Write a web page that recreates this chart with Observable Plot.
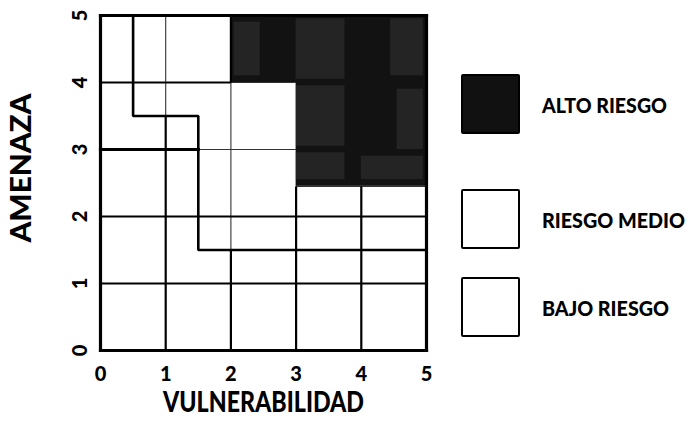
<!DOCTYPE html>
<html>
<head>
<meta charset="utf-8">
<script src="https://cdn.jsdelivr.net/npm/d3@7"></script>
<script src="https://cdn.jsdelivr.net/npm/@observablehq/plot@0.6"></script>
<style>
  html, body { margin: 0; padding: 0; background: #fff; }
  #wrap { position: relative; width: 688px; height: 432px; font-family: Lato, "Open Sans", sans-serif; }
  #legend { position: absolute; left: 461px; top: 0; }
  .item { position: absolute; left: 0; display: flex; align-items: center; white-space: nowrap; }
  .sw { width: 55px; height: 56px; border: 2px solid #000; border-radius: 2px; box-sizing: content-box; flex: none; }
  .lab { display: inline-block; margin-left: 22px; font-weight: 900; font-size: 21px; color: #000; transform-origin: 0 50%; }
</style>
</head>
<body>
<div id="wrap"></div>
<script>
// ---- data ----
const xTicks = [0, 1, 2, 3, 4, 5];
const yTicks = [0, 1, 2, 3, 4, 5];
const xLabel = "VULNERABILIDAD";
const yLabel = "AMENAZA";
const legendLabels = ["ALTO RIESGO", "RIESGO MEDIO", "BAJO RIESGO"];
const legendFills = ["#111", "#fff", "#fff"];

// high-risk zone (vulnerability x threat)
const altoRiesgo = [
  {x1: 2, x2: 5, y1: 4, y2: 5},
  {x1: 3, x2: 5, y1: 2.45, y2: 4}
];
// lighter speckled patches inside the high-risk zone
const manchas = [
  {x1: 2.05, x2: 2.45, y1: 4.1, y2: 4.9},
  {x1: 3.0, x2: 3.75, y1: 4.05, y2: 4.95},
  {x1: 4.45, x2: 4.95, y1: 4.1, y2: 4.95},
  {x1: 3.0, x2: 3.75, y1: 3.05, y2: 3.95},
  {x1: 4.55, x2: 4.95, y1: 3.0, y2: 3.9},
  {x1: 3.0, x2: 3.75, y1: 2.55, y2: 2.95},
  {x1: 4.0, x2: 4.95, y1: 2.55, y2: 2.9}
];
// boundary between low and medium risk (stepped line)
const limiteBajoMedio = [
  {x: 0.5, y: 5}, {x: 0.5, y: 3.5}, {x: 1.5, y: 3.5},
  {x: 1.5, y: 1.5}, {x: 5, y: 1.5}
];
// grid segments grouped by stroke weight
const marco = [
  {x1: 0, y1: 0, x2: 0, y2: 5}, {x1: 0, y1: 0, x2: 5, y2: 0},
  {x1: 5, y1: 0, x2: 5, y2: 5}, {x1: 0, y1: 5, x2: 5, y2: 5},
  {x1: 0, y1: 3, x2: 1.5, y2: 3}
];
const lineasMedias = [
  {x1: 0, y1: 4, x2: 2, y2: 4}, {x1: 0, y1: 2, x2: 5, y2: 2},
  {x1: 0, y1: 1, x2: 5, y2: 1},
  {x1: 1, y1: 0, x2: 1, y2: 3.5}, {x1: 2, y1: 0, x2: 2, y2: 1.5},
  {x1: 3, y1: 0, x2: 3, y2: 2.45}, {x1: 4, y1: 0, x2: 4, y2: 2.45},
  {x1: 2, y1: 4, x2: 2, y2: 5}
];
const lineasFinas = [
  {x1: 1, y1: 3.5, x2: 1, y2: 5}, {x1: 2, y1: 1.5, x2: 2, y2: 4},
  {x1: 1.5, y1: 3, x2: 3, y2: 3}, {x1: 2, y1: 4, x2: 3, y2: 4},
  {x1: 3, y1: 2.45, x2: 5, y2: 2.45}
];

// ---- chart ----
const font = "Lato, 'Open Sans', sans-serif";
const chart = Plot.plot({
  width: 688,
  height: 432,
  marginLeft: 100,
  marginRight: 262,
  marginTop: 15,
  marginBottom: 82,
  style: {fontFamily: font, background: "#fff", color: "#000"},
  x: {domain: [0, 5]},
  y: {domain: [0, 5]},
  marks: [
    Plot.rect(altoRiesgo, {x1: "x1", x2: "x2", y1: "y1", y2: "y2", fill: "#121212"}),
    Plot.rect(manchas, {x1: "x1", x2: "x2", y1: "y1", y2: "y2", fill: "#5a5a5a", fillOpacity: 0.25}),
    Plot.link(lineasFinas, {x1: "x1", y1: "y1", x2: "x2", y2: "y2", stroke: "#333", strokeWidth: 1.1}),
    Plot.link(lineasMedias, {x1: "x1", y1: "y1", x2: "x2", y2: "y2", stroke: "#000", strokeWidth: 2.2}),
    Plot.link(marco, {x1: "x1", y1: "y1", x2: "x2", y2: "y2", stroke: "#000", strokeWidth: 3.2, strokeLinecap: "square"}),
    Plot.line(limiteBajoMedio, {x: "x", y: "y", stroke: "#000", strokeWidth: 2.6, strokeLinejoin: "miter"}),
    Plot.axisX({ticks: xTicks, tickFormat: d3.format("d"), tickSize: 0, tickPadding: 16, label: null, fontSize: 20, fontWeight: 900}),
    Plot.axisY({ticks: yTicks, tickFormat: d3.format("d"), tickSize: 0, tickPadding: 14, label: null, fontSize: 20, fontWeight: 900, tickRotate: -90}),
    Plot.text([yLabel], {frameAnchor: "left", dx: -78, dy: -15, rotate: -90, textAnchor: "middle", lineAnchor: "middle", fontSize: 28, fontWeight: 900, text: d => d, className: "ttl-y"}),
    Plot.text([xLabel], {frameAnchor: "bottom", dy: 53, textAnchor: "middle", lineAnchor: "middle", fontSize: 28, fontWeight: 900, text: d => d, className: "ttl-x"})
  ]
});

const wrap = document.getElementById("wrap");
wrap.appendChild(chart);

// condensed look of the titles (match the reference widths)
const fit = (sel, len) => chart.querySelectorAll(sel + " text").forEach(t => {
  t.setAttribute("textLength", len);
  t.setAttribute("lengthAdjust", "spacingAndGlyphs");
});
fit(".ttl-y", 149);
fit(".ttl-x", 201);

// ---- legend ----
const legend = document.createElement("div");
legend.id = "legend";
const tops = [74, 189, 277];
const widths = [125, 143, 127];
wrap.appendChild(legend);
legendLabels.forEach((lab, i) => {
  const item = document.createElement("div");
  item.className = "item";
  item.style.top = tops[i] + "px";
  const sw = document.createElement("div");
  sw.className = "sw";
  sw.style.background = legendFills[i];
  const t = document.createElement("span");
  t.className = "lab";
  t.textContent = lab;
  item.appendChild(sw);
  item.appendChild(t);
  legend.appendChild(item);
  const w = t.getBoundingClientRect().width;
  if (w > 0) t.style.transform = `scaleX(${widths[i] / w})`;
});
</script>
</body>
</html>
